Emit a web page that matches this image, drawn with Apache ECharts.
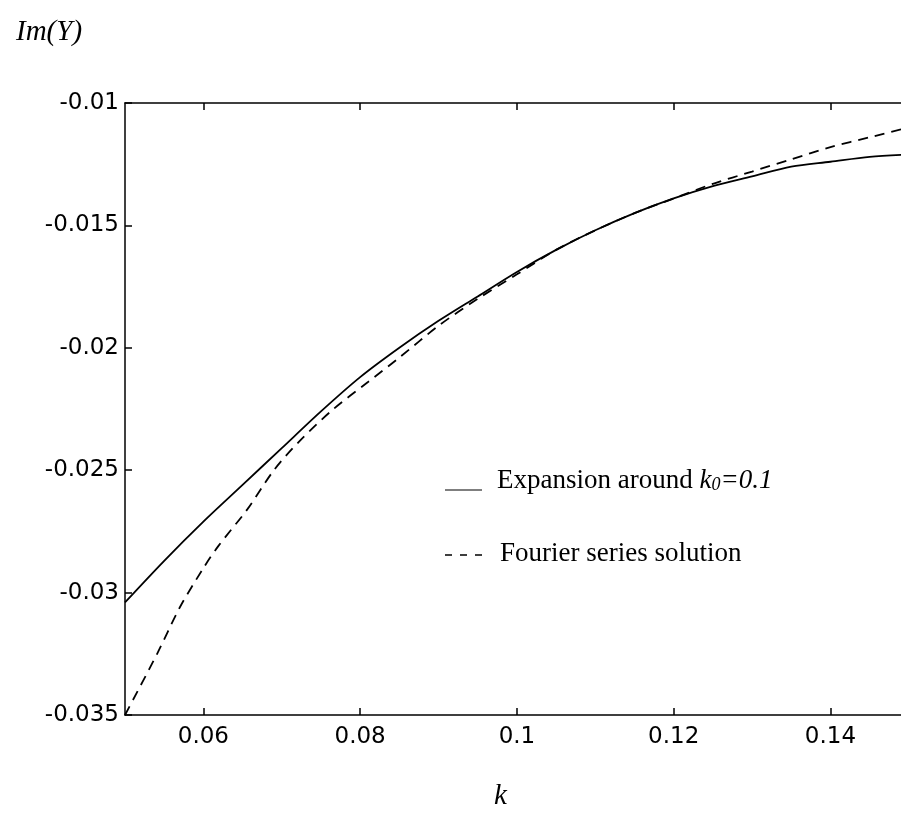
<!DOCTYPE html>
<html>
<head>
<meta charset="utf-8">
<script src="https://cdn.jsdelivr.net/npm/echarts@6/dist/echarts.min.js"></script>
<style>
html,body{margin:0;padding:0;background:#fff;}
#chart{width:901px;height:835px;}
</style>
</head>
<body>
<div id="chart"></div>
<script>
// k values and Im(Y) values
const expansionK = [0.05, 0.055, 0.06, 0.065, 0.07, 0.075, 0.08, 0.085, 0.09, 0.095, 0.10, 0.105, 0.11, 0.115, 0.12, 0.125, 0.13, 0.135, 0.14, 0.145, 0.15];
const expansionY = [-0.0304, -0.0287, -0.0271, -0.0256, -0.0241, -0.0226, -0.0212, -0.0200, -0.0189, -0.0179, -0.0169, -0.0160, -0.0152, -0.0145, -0.0139, -0.0134, -0.0130, -0.0126, -0.0124, -0.0122, -0.0121];
const fourierK = [0.05, 0.0541, 0.057, 0.06, 0.0619, 0.0656, 0.069, 0.0723, 0.0766, 0.081, 0.085, 0.09, 0.095, 0.10, 0.105, 0.11, 0.115, 0.12, 0.125, 0.13, 0.135, 0.14, 0.145, 0.15];
const fourierY = [-0.0350, -0.0325, -0.0306, -0.0290, -0.0281, -0.0266, -0.0250, -0.0238, -0.0225, -0.0214, -0.0204, -0.0191, -0.0180, -0.0170, -0.0160, -0.0152, -0.0145, -0.0139, -0.0133, -0.0128, -0.0123, -0.0118, -0.0114, -0.0110];
const xTicks = [0.06, 0.08, 0.1, 0.12, 0.14];
const yTicks = [-0.035, -0.03, -0.025, -0.02, -0.015, -0.01];

const chart = echarts.init(document.getElementById('chart'));
const axisLineStyle = {color: '#000', width: 1.5};
const sans = 'DejaVu Sans';
const serif = 'Liberation Serif';

chart.setOption({
  animation: false,
  backgroundColor: '#fff',
  title: {
    text: 'Im(Y)', left: 11, top: 13,
    textStyle: {fontFamily: serif, fontStyle: 'italic', fontWeight: 'normal', fontSize: 29, color: '#000'}
  },
  grid: {left: 125, right: 0, top: 103, bottom: 120},
  xAxis: [{
    type: 'value', min: 0.05, max: 0.149, position: 'bottom',
    axisLine: {show: true, lineStyle: axisLineStyle},
    axisTick: {show: true, inside: true, length: 7, customValues: xTicks, lineStyle: {color: '#000', width: 1.5}},
    axisLabel: {customValues: xTicks, formatter: v => String(+v.toFixed(2)), fontFamily: sans, fontSize: 23, color: '#000', margin: 11},
    splitLine: {show: false}
  }, {
    type: 'value', min: 0.05, max: 0.149, position: 'top',
    axisLine: {show: true, lineStyle: axisLineStyle},
    axisTick: {show: true, inside: true, length: 7, customValues: xTicks, lineStyle: {color: '#000', width: 1.5}},
    axisLabel: {show: false},
    splitLine: {show: false}
  }],
  yAxis: [{
    type: 'value', min: -0.035, max: -0.01, interval: 0.005,
    axisLine: {show: true, lineStyle: axisLineStyle},
    axisTick: {show: true, inside: true, length: 7, customValues: yTicks, lineStyle: {color: '#000', width: 1.5}},
    axisLabel: {customValues: yTicks, formatter: v => String(+v.toFixed(3)), fontFamily: sans, fontSize: 23, color: '#000', margin: 6},
    splitLine: {show: false}
  }],
  series: [{
    name: 'Expansion around k0=0.1',
    type: 'line', showSymbol: false, smooth: 0.3,
    data: expansionK.map((k, i) => [k, expansionY[i]]),
    lineStyle: {color: '#000', width: 1.8}
  }, {
    name: 'Fourier series solution',
    type: 'line', showSymbol: false, smooth: 0.3,
    data: fourierK.map((k, i) => [k, fourierY[i]]),
    lineStyle: {color: '#000', width: 1.8, type: [10, 7]}
  }],
  graphic: [
    {type: 'text', left: 494, top: 782, style: {text: 'k', font: 'italic 29px "Liberation Serif"', fill: '#000'}},
    {type: 'line', shape: {x1: 445, y1: 490, x2: 482, y2: 490}, style: {stroke: '#000', lineWidth: 1.2}},
    {type: 'text', left: 497, top: 467, style: {
      text: 'Expansion around {i|k}{s|0}{i|=0.1}',
      rich: {
        i: {fontFamily: serif, fontStyle: 'italic', fontSize: 27, fill: '#000'},
        s: {fontFamily: serif, fontStyle: 'italic', fontSize: 18, fill: '#000', padding: [10, 0, 0, 0]}
      },
      font: '27px "Liberation Serif"', fill: '#000'
    }},
    {type: 'line', shape: {x1: 445, y1: 555, x2: 482, y2: 555}, style: {stroke: '#000', lineWidth: 1.5, lineDash: [7, 8]}},
    {type: 'text', left: 500, top: 540, style: {text: 'Fourier series solution', font: '27px "Liberation Serif"', fill: '#000'}}
  ]
});
</script>
</body>
</html>
